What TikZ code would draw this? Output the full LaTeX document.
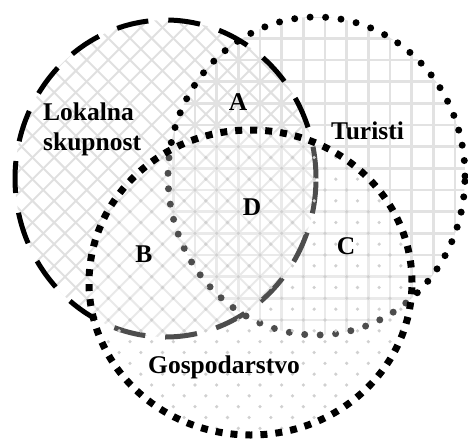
\documentclass[tikz,border=0pt]{standalone}
\usepackage{fontspec}
\setmainfont{Liberation Serif}
\definecolor{hatchgray}{HTML}{E0E0E0}
\definecolor{gridgray}{HTML}{E2E2E2}
\definecolor{dotgray}{HTML}{D0D0D0}
\begin{document}
\begin{tikzpicture}[x=1pt,y=-1pt,
  hatch/.style={draw=hatchgray, line width=2pt},
  gridln/.style={draw=gridgray, line width=2.6pt},
  lokb/.style={line width=5pt, dash pattern=on 32pt off 20pt},
  turb/.style={line width=7pt, line cap=round, dash pattern=on 0pt off 15.5pt},
  gosb/.style={line width=7pt, dash pattern=on 7pt off 8pt},
  lbl/.style={font=\fontsize{25.5}{30}\selectfont\bfseries, inner sep=0pt, anchor=base},
  Lrad/.style={x radius=150.5pt, y radius=158.5pt},
  Trad/.style={x radius=148.5pt, y radius=159pt},
  Grad/.style={x radius=161.5pt, y radius=152.5pt}]
\useasboundingbox (0,0) rectangle (468,439);
\coordinate (cL) at (165.5,178.5);
\coordinate (cT) at (316.5,176);
\coordinate (cG) at (250.5,282.5);

% Lokalna skupnost: diagonal crosshatch
\begin{scope}
  \clip (cL) ellipse [Lrad];
  \foreach \k in {-14,...,18}
    \draw[hatch] ({298.33+21.667*\k-500},500) -- ({298.33+21.667*\k+100},-100);
  \foreach \k in {-26,...,5}
    \draw[hatch] ({221.67+21.667*\k-100},-100) -- ({221.67+21.667*\k+500},500);
\end{scope}

% Turisti: grid
\begin{scope}
  \clip (cT) ellipse [Trad];
  \foreach \k in {-5,...,10}
    \draw[gridln] ({260+21.667*\k},0) -- ({260+21.667*\k},439);
  \foreach \k in {-2,...,15}
    \draw[gridln] (0,{38.33+21.667*\k}) -- (468,{38.33+21.667*\k});
\end{scope}

\draw[lokb] (cL) ellipse [Lrad];
\draw[turb] (cT) ellipse [Trad];

% Gospodarstvo: veil + dots
\fill[white, opacity=0.3] (cG) ellipse [Grad];
\begin{scope}
  \clip (cG) ellipse [Grad];
  \foreach \i in {-8,...,8}
    \foreach \j in {4,...,19} {
      \fill[dotgray] ({260+21.667*\i},{38.33+21.667*\j}) circle (1.8pt);
      \fill[dotgray] ({270.83+21.667*\i},{49.17+21.667*\j}) circle (1.8pt);
    }
\end{scope}
\draw[gosb] (cG) ellipse [Grad];

% Labels
\node[lbl, anchor=base west] (lok1) at (43,120) {Lokalna};
\node[lbl, anchor=base west] (lok2) at (43,150) {skupnost};
\node[lbl] (tur) at (367.5,139) {Turisti};
\node[lbl] (gos) at (224,373) {Gospodarstvo};
\node[lbl] (A) at (238,110) {A};
\node[lbl] (B) at (144,262) {B};
\node[lbl] (C) at (346,254) {C};
\node[lbl] (D) at (252,215) {D};
\end{tikzpicture}
\end{document}
